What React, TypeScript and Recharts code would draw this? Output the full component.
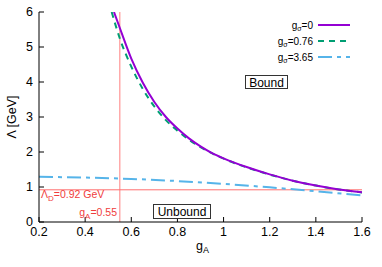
import React from "react";
import { LineChart, Line, XAxis, YAxis, ReferenceLine } from "recharts";

const xTicks = [0.2, 0.4, 0.6, 0.8, 1, 1.2, 1.4, 1.6];
const yTicks = [0, 1, 2, 3, 4, 5, 6];

const gA0 = [0.525, 0.55, 0.6, 0.65, 0.7, 0.75, 0.8, 0.85, 0.9, 0.95, 1.0, 1.1, 1.2, 1.3, 1.4, 1.5, 1.6];
const lam0 = [6.0, 5.55, 4.67, 3.98, 3.43, 3.0, 2.67, 2.39, 2.16, 1.97, 1.82, 1.57, 1.36, 1.18, 1.04, 0.93, 0.85];

const gA076 = [0.515, 0.55, 0.6, 0.65, 0.7, 0.75, 0.8, 0.85, 0.9, 1.0, 1.1, 1.2, 1.3, 1.4, 1.5, 1.6];
const lam076 = [6.0, 5.25, 4.44, 3.8, 3.3, 2.91, 2.61, 2.35, 2.14, 1.81, 1.56, 1.355, 1.18, 1.04, 0.93, 0.845];

const gA365 = [0.2, 0.4, 0.6, 0.8, 1.0, 1.2, 1.4, 1.6];
const lam365 = [1.29, 1.27, 1.23, 1.17, 1.09, 0.99, 0.88, 0.76];

const lambdaD = 0.92;
const gAcut = 0.55;

const toData = (xs: number[], ys: number[]) => xs.map((x, i) => ({ x, y: ys[i] }));

const d0 = toData(gA0, lam0);
const d076 = toData(gA076, lam076);
const d365 = toData(gA365, lam365);

const FONT = "'Liberation Sans', Arial, sans-serif";
const RED = "#f03c3c";

export default function App() {
  return (
    <div style={{ position: "absolute", left: 0, top: 0, width: 382, height: 267, background: "#fff", fontFamily: FONT }}>
      <LineChart width={382} height={267} margin={{ top: 12, right: 20, bottom: 0, left: 0 }}>
        <XAxis
          dataKey="x"
          type="number"
          domain={[0.2, 1.6]}
          ticks={xTicks}
          interval={0}
          height={45}
          allowDataOverflow
          stroke="#000"
          tickSize={-5}
          tickMargin={10}
          tick={{ fill: "#000", fontSize: 12.5, fontFamily: FONT }}
          tickFormatter={(v: number) => String(v)}
        />
        <XAxis
          xAxisId="top"
          orientation="top"
          dataKey="x"
          type="number"
          domain={[0.2, 1.6]}
          ticks={xTicks}
          interval={0}
          height={0}
          stroke="#000"
          tickSize={-5}
          tick={() => null}
        />
        <YAxis
          type="number"
          domain={[0, 6]}
          ticks={yTicks}
          interval={0}
          width={39}
          allowDataOverflow
          stroke="#000"
          tickSize={-5}
          tickMargin={11}
          tick={{ fill: "#000", fontSize: 12.5, fontFamily: FONT }}
        />
        <YAxis
          yAxisId="right"
          orientation="right"
          type="number"
          domain={[0, 6]}
          ticks={yTicks}
          interval={0}
          width={0}
          stroke="#000"
          tickSize={-5}
          tick={() => null}
        />
        <ReferenceLine x={gAcut} stroke="#ffaaaa" strokeWidth={1.5} />
        <ReferenceLine y={lambdaD} stroke="#ff7070" strokeWidth={1} />
        <Line data={d365} dataKey="y" type="monotone" stroke="#56b4e9" strokeWidth={2} strokeDasharray="14 5 4 5" dot={false} activeDot={false} isAnimationActive={false} />
        <Line data={d076} dataKey="y" type="monotone" stroke="#009e73" strokeWidth={2} strokeDasharray="6 5" dot={false} activeDot={false} isAnimationActive={false} />
        <Line data={d0} dataKey="y" type="monotone" stroke="#9400d3" strokeWidth={2} dot={false} activeDot={false} isAnimationActive={false} />
      </LineChart>
      <svg width={382} height={267} style={{ position: "absolute", left: 0, top: 0, pointerEvents: "none" }} fontFamily={FONT}>
        <text x={313} y={28.5} textAnchor="end" fontSize={10} fill="#000">
          g<tspan fontSize={7} dy={2}>σ</tspan><tspan dy={-2}>=0</tspan>
        </text>
        <line x1={318} x2={350} y1={25} y2={25} stroke="#9400d3" strokeWidth={2} />
        <text x={313} y={44.5} textAnchor="end" fontSize={10} fill="#000">
          g<tspan fontSize={7} dy={2}>σ</tspan><tspan dy={-2}>=0.76</tspan>
        </text>
        <line x1={318} x2={350} y1={41} y2={41} stroke="#009e73" strokeWidth={2} strokeDasharray="6 5" />
        <text x={313} y={60.5} textAnchor="end" fontSize={10} fill="#000">
          g<tspan fontSize={7} dy={2}>σ</tspan><tspan dy={-2}>=3.65</tspan>
        </text>
        <line x1={318} x2={350} y1={57} y2={57} stroke="#56b4e9" strokeWidth={2} strokeDasharray="14 5 4 5" />

        <rect x={245.5} y={75.5} width={42} height={13} fill="#fff" stroke="#333" strokeWidth={1} />
        <text x={266.5} y={86.5} textAnchor="middle" fontSize={12} fill="#000">Bound</text>
        <rect x={153.5} y={204.5} width={57} height={14} fill="#fff" stroke="#333" strokeWidth={1} />
        <text x={182} y={216} textAnchor="middle" fontSize={12} fill="#000">Unbound</text>

        <text x={41} y={198} fontSize={10.5} fill={RED}>
          Λ<tspan fontSize={8} dy={3}>D</tspan><tspan dy={-3}>=0.92 GeV</tspan>
        </text>
        <text x={117} y={216} textAnchor="end" fontSize={10.5} fill={RED}>
          g<tspan fontSize={8} dy={3}>A</tspan><tspan dy={-3}>=0.55</tspan>
        </text>

        <text x={196} y={250} fontSize={12.5} fill="#000">
          g<tspan fontSize={9} dy={3}>A</tspan>
        </text>
        <text transform="translate(15.5,117) rotate(-90)" textAnchor="middle" fontSize={12.5} fill="#000">Λ [GeV]</text>
      </svg>
    </div>
  );
}
